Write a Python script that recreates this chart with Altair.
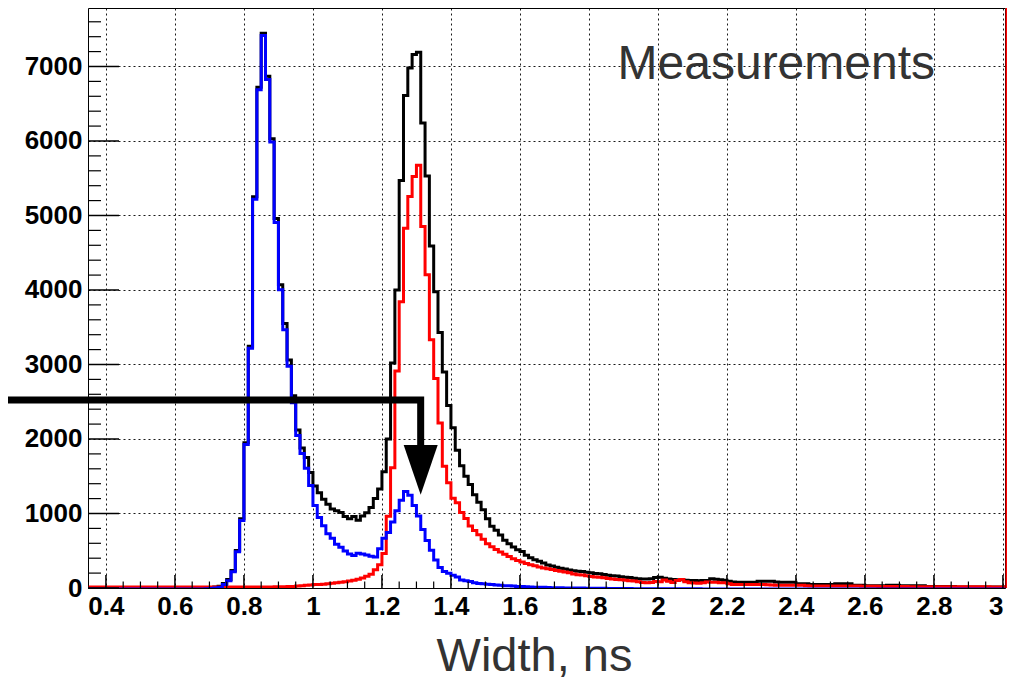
import altair as alt
import pandas as pd

# ---- histogram binning (0.0125 wide bins starting at 0.35) ----
BIN_START = 0.35
BIN_WIDTH = 0.0125
X_DOMAIN = [0.348, 3.006]
Y_MAX = 7785

# ---- series values (counts per bin), rows of 8 bins = 0.1 in width ----
BLUE = [
    0, 0, 0, 0, 0, 0, 0, 0,
    0, 0, 0, 0, 0, 0, 0, 0,
    0, 0, 0, 0, 0, 0, 0, 0,
    0, 0, 1, 3, 8, 12, 20, 60,
    110, 230, 500, 920, 1940, 3230, 5230, 6700,
    7430, 6840, 6000, 4920, 4015, 3480, 2990, 2500,
    2060, 1820, 1620, 1390, 1120, 960, 850, 740,
    680, 600, 560, 510, 470, 450, 480, 470,
    455, 440, 430, 540, 680, 760, 900, 1050,
    1190, 1310, 1260, 1120, 980, 800, 650, 520,
    390, 290, 235, 210, 185, 160, 120, 110,
    100, 85, 75, 70, 65, 60, 55, 50,
    45, 45, 40, 35, 35, 30, 28, 25,
    24, 22, 20, 18, 17, 16, 15, 14,
    13, 12, 12, 11, 10, 10, 9, 9,
    8, 8, 7, 7, 6, 6, 5, 5,
    5, 4, 4, 4, 3, 3, 3, 3,
    2, 2, 2, 2, 2, 2, 1, 1,
    1, 1, 1, 1, 1, 1, 1, 0,
    0, 1, 0, 0, 0, 0, 1, 0,
    0, 0, 0, 0, 0, 0, 0, 0,
    0, 0, 0, 0, 0, 0, 0, 0,
    0, 0, 0, 0, 0, 0, 0, 0,
    0, 0, 0, 0, 0, 0, 0, 0,
    0, 0, 0, 0, 0, 0, 0, 0,
    0, 0, 0, 0, 0, 0, 0, 0,
    0, 0, 0, 0, 0,
]

RED = [
    0, 0, 0, 0, 0, 0, 0, 0,
    0, 0, 0, 0, 0, 0, 0, 0,
    0, 0, 0, 0, 0, 0, 0, 0,
    0, 0, 0, 0, 0, 0, 0, 0,
    0, 0, 0, 0, 0, 0, 0, 0,
    0, 1, 1, 2, 3, 4, 6, 8,
    12, 17, 22, 27, 32, 35, 38, 45,
    52, 58, 65, 72, 80, 92, 105, 122,
    145, 170, 230, 300, 450, 950, 1600, 2900,
    3830, 4815, 5240, 5510, 5660, 4840, 4190, 3320,
    2800, 2200, 1620, 1400, 1190, 1130, 1000, 920,
    820, 760, 700, 640, 580, 540, 505, 470,
    440, 410, 380, 355, 335, 315, 300, 285,
    270, 255, 245, 235, 220, 210, 200, 190,
    175, 165, 160, 150, 140, 135, 130, 125,
    115, 108, 102, 96, 90, 85, 80, 72,
    62, 58, 62, 75, 70, 95, 78, 62,
    88, 100, 72, 58, 55, 52, 58, 66,
    65, 65, 56, 56, 45, 34, 34, 34,
    34, 34, 34, 34, 34, 30, 28, 25,
    25, 25, 25, 25, 25, 22, 18, 15,
    15, 15, 15, 15, 15, 15, 15, 15,
    15, 14, 12, 10, 10, 9, 9, 8,
    8, 7, 7, 6, 6, 6, 5, 5,
    5, 4, 4, 4, 4, 3, 3, 3,
    3, 3, 2, 2, 2, 2, 2, 2,
    2, 1, 1, 1, 1,
]

BLACK = [
    0, 0, 0, 0, 0, 0, 0, 0,
    0, 0, 0, 0, 0, 0, 0, 0,
    0, 0, 0, 0, 0, 0, 0, 0,
    0, 0, 1, 3, 8, 13, 22, 62,
    115, 235, 505, 930, 1950, 3245, 5250, 6720,
    7445, 6870, 6030, 4960, 4070, 3550, 3060, 2580,
    2120, 1880, 1750, 1550, 1370, 1280, 1190, 1125,
    1060, 1036, 1013, 960, 930, 960, 910, 965,
    1010, 1080, 1200, 1330, 1560, 2000, 3020, 4000,
    5470, 6610, 6980, 7160, 7190, 6240, 5530, 4590,
    3975, 3430, 2900, 2450, 2150, 1850, 1640, 1500,
    1390, 1250, 1150, 1050, 930, 830, 775, 710,
    640, 595, 550, 515, 490, 440, 405, 380,
    360, 335, 310, 295, 280, 265, 255, 240,
    232, 225, 220, 212, 205, 195, 190, 180,
    170, 165, 160, 150, 145, 140, 130, 125,
    122, 120, 125, 140, 145, 130, 120, 115,
    112, 110, 105, 100, 100, 98, 100, 100,
    123, 118, 110, 105, 92, 80, 78, 78,
    78, 77, 78, 92, 92, 90, 92, 80,
    78, 78, 78, 76, 56, 56, 56, 47,
    47, 47, 47, 47, 47, 56, 56, 56,
    56, 38, 38, 38, 29, 29, 29, 29,
    29, 38, 38, 38, 29, 29, 29, 29,
    29, 29, 20, 20, 20, 20, 20, 20,
    20, 15, 15, 15, 15, 15, 15, 15,
    15, 15, 15, 15, 15,
]

# ---- axis tick values ----
X_MAJOR = [0.4, 0.6, 0.8, 1.0, 1.2, 1.4, 1.6, 1.8, 2.0, 2.2, 2.4, 2.6, 2.8, 3.0]
Y_MAJOR = [0, 1000, 2000, 3000, 4000, 5000, 6000, 7000]
X_MINOR = [round(0.4 + 0.05 * k, 2) for k in range(53) if k % 4 != 0]
Y_MINOR = [200 * k for k in range(1, 39) if k % 5 != 0]

# ---- annotations ----
LABEL_TEXT = ["Measurements"]
LABEL_X = [1.883]
LABEL_Y = [6830]
ARROW_X = [0.05, 1.3123, 1.3123]
ARROW_Y = [2525, 2525, 1920]
HEAD_X = [1.2630, 1.3123, 1.3616]
HEAD_TOP = [1920, 1920, 1920]
HEAD_BOTTOM = [1920, 1250, 1920]

W, H = 917, 580
FONT = "Liberation Sans"

edges = [round(BIN_START + BIN_WIDTH * i, 5) for i in range(len(BLUE) + 1)]


def hist_df(vals):
    return pd.DataFrame({"x": edges, "v": list(vals) + [vals[-1]]})


x_scale = alt.Scale(domain=X_DOMAIN, nice=False, zero=False)
y_scale = alt.Scale(domain=[0, Y_MAX], nice=False, zero=False)

x_axis = alt.Axis(
    values=X_MAJOR, format="~g", title="Width, ns",
    grid=True, gridDash=[2, 3], gridColor="black", gridWidth=1, gridOpacity=0.9,
    ticks=False, tickSize=0, domain=False,
    labelFont=FONT, labelFontSize=26, labelFontWeight="bold", labelColor="black",
    labelPadding=5, labelFlush=5, labelOverlap=False, labelBound=False,
    titleFont=FONT, titleFontSize=47, titleFontWeight="normal", titleColor="#333333",
    titleX=446, titleY=82, titleAlign="center", titleBaseline="alphabetic",
)
y_axis = alt.Axis(
    values=Y_MAJOR, format="d", title=None,
    grid=True, gridDash=[2, 3], gridColor="black", gridWidth=1, gridOpacity=0.9,
    ticks=False, tickSize=0, domain=False,
    labelFont=FONT, labelFontSize=26, labelFontWeight="bold", labelColor="black",
    labelPadding=6, labelFlush=False, labelOverlap=False, labelBound=False,
)


def X(field):
    return alt.X(field, type="quantitative", scale=x_scale, axis=x_axis)


def Y(field):
    return alt.Y(field, type="quantitative", scale=y_scale, axis=y_axis)


layers = []

# histograms: black (total), red, blue
for vals, col, dy in [(BLACK, "black", 0), (RED, "#ff0000", -1), (BLUE, "#0000ff", 1)]:
    layers.append(
        alt.Chart(hist_df(vals))
        .mark_line(interpolate="step-after", color=col, strokeWidth=3,
                   strokeJoin="miter", clip=True, yOffset=dy)
        .encode(x=X("x"), y=Y("v"))
    )

# inside ticks
layers.append(
    alt.Chart(pd.DataFrame({"x": X_MAJOR})).mark_rule(color="black", strokeWidth=1.5)
    .encode(x=X("x"), y=alt.value(H), y2=alt.value(H - 13))
)
layers.append(
    alt.Chart(pd.DataFrame({"x": X_MINOR})).mark_rule(color="black", strokeWidth=1.2)
    .encode(x=X("x"), y=alt.value(H), y2=alt.value(H - 6.5))
)
layers.append(
    alt.Chart(pd.DataFrame({"y": Y_MAJOR})).mark_rule(color="black", strokeWidth=1.5)
    .encode(y=Y("y"), x=alt.value(0), x2=alt.value(31))
)
layers.append(
    alt.Chart(pd.DataFrame({"y": Y_MINOR})).mark_rule(color="black", strokeWidth=1.2)
    .encode(y=Y("y"), x=alt.value(0), x2=alt.value(13))
)

# red vertical line on the right edge
layers.append(
    alt.Chart(pd.DataFrame({"x": [X_DOMAIN[1]]})).mark_rule(color="#ff0000", strokeWidth=2, xOffset=1.5)
    .encode(x=X("x"), y=alt.value(0), y2=alt.value(H))
)

# arrow annotation
layers.append(
    alt.Chart(pd.DataFrame({"x": ARROW_X, "y": ARROW_Y, "o": [0, 1, 2]}))
    .mark_line(color="black", strokeWidth=7, strokeCap="butt", strokeJoin="miter")
    .encode(x=X("x"), y=Y("y"), order="o:Q")
)
layers.append(
    alt.Chart(pd.DataFrame({"x": HEAD_X, "y": HEAD_TOP, "y2": HEAD_BOTTOM}))
    .mark_area(color="black", opacity=1)
    .encode(x=X("x"), y=Y("y"), y2="y2:Q")
)

# "Measurements" label
layers.append(
    alt.Chart(pd.DataFrame({"x": LABEL_X, "y": LABEL_Y, "t": LABEL_TEXT}))
    .mark_text(align="left", baseline="alphabetic", font=FONT, fontSize=48, color="#333333")
    .encode(x=X("x"), y=Y("y"), text="t:N")
)

chart = (
    alt.layer(*layers)
    .properties(
        width=W, height=H,
        autosize=alt.AutoSizeParams(type="none"),
        padding={"left": 80, "top": 0, "right": 2, "bottom": 92},
        background="white",
    )
    .configure_view(stroke="black", strokeWidth=1)
)

chart.save("out.html", embed_options={"renderer": "svg", "actions": False})
